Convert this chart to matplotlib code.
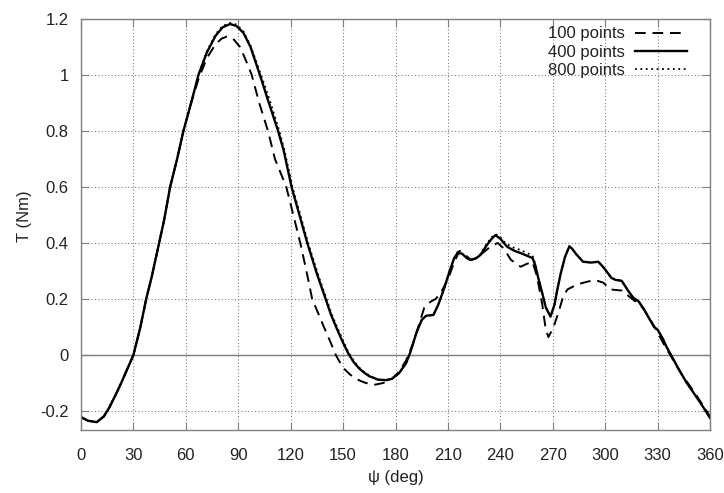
import matplotlib
matplotlib.use("Agg")
import matplotlib.pyplot as plt

# ---- data ----
psi_400 = [0, 4, 9, 13, 16, 20, 23, 26.5, 30, 34, 37.3, 40.5, 44, 47.5, 51, 55, 58.6, 63, 67.2, 72,
           77, 81, 85.3, 89, 93, 97, 102.4, 107, 112.8, 116, 120.5, 125, 129.5, 135, 140, 143, 146,
           149.5, 153, 156, 159, 162, 165, 170, 174.6, 178, 182, 186, 188.5, 192, 195, 197.5, 201.7,
           204.5, 207.5, 211, 213.5, 215.5, 218, 221, 223, 226, 228.6, 232, 235, 237.2, 240, 242, 244,
           248, 251.6, 255, 258.4, 260, 261.5, 264, 266, 268.7, 271, 272.5, 274.5, 277, 279.5, 281,
           283.4, 287.3, 292, 296, 298, 300, 303.6, 306, 309.4, 311, 313.4, 316, 319.3, 322, 325.2,
           328, 330, 333, 335, 338.8, 342, 346.7, 350, 354.4, 357.5, 360]
T_400 = [-0.222, -0.235, -0.240, -0.220, -0.19, -0.14, -0.10, -0.05, 0.0, 0.1, 0.2, 0.28, 0.38, 0.48,
         0.6, 0.70, 0.8, 0.90, 1.0, 1.08, 1.14, 1.17, 1.182, 1.175, 1.15, 1.10, 1.0, 0.91, 0.8, 0.73,
         0.6, 0.5, 0.4, 0.29, 0.2, 0.145, 0.1, 0.05, 0.005, -0.025, -0.047, -0.063, -0.076, -0.088,
         -0.09, -0.085, -0.065, -0.03, 0.01, 0.08, 0.125, 0.14, 0.143, 0.18, 0.232, 0.30, 0.345,
         0.364, 0.362, 0.345, 0.339, 0.345, 0.357, 0.39, 0.415, 0.428, 0.415, 0.40, 0.386, 0.372,
         0.364, 0.355, 0.346, 0.32, 0.28, 0.22, 0.17, 0.137, 0.18, 0.23, 0.29, 0.35, 0.388, 0.38,
         0.36, 0.333, 0.33, 0.333, 0.32, 0.305, 0.275, 0.268, 0.265, 0.25, 0.227, 0.205, 0.19, 0.165,
         0.13, 0.10, 0.09, 0.058, 0.03, -0.013, -0.05, -0.1, -0.13, -0.17, -0.2, -0.225]

psi_800 = [0, 4, 9, 13, 16, 20, 23, 26.5, 30, 34, 37.3, 40.5, 44, 47.5, 51, 55, 58.6, 63, 67.2, 72,
           77, 81, 85.5, 89, 93, 97, 103, 108, 113.5, 116.5, 121, 125.5, 130, 135.5, 140.5, 143.5,
           146.5, 150, 153.5, 156.5, 159.5, 162.5, 165.5, 170, 174.6, 178, 182, 186, 188.5, 192, 195,
           197.5, 201.7, 204.5, 207.5, 211, 213.5, 215.5, 218, 221, 223, 226, 228.6, 232, 235, 237.2,
           240, 242, 244, 248, 251.6, 255, 258.4, 260, 261.5, 264, 266, 268.7, 271, 272.5, 274.5, 277,
           279.5, 281, 283.4, 287.3, 292, 296, 298, 300, 303.6, 306, 309.4, 311, 313.4, 316, 319.3,
           322, 325.2, 328, 330, 333, 335, 338.8, 342, 346.7, 350, 354.4, 357.5, 360]
T_800 = [-0.222, -0.235, -0.240, -0.220, -0.19, -0.14, -0.10, -0.05, 0.0, 0.1, 0.2, 0.28, 0.38, 0.48,
         0.6, 0.70, 0.8, 0.90, 1.0, 1.085, 1.145, 1.175, 1.186, 1.18, 1.155, 1.105, 1.0, 0.91, 0.8,
         0.73, 0.6, 0.5, 0.4, 0.29, 0.2, 0.145, 0.1, 0.05, 0.005, -0.025, -0.047, -0.063, -0.076,
         -0.088, -0.09, -0.085, -0.065, -0.03, 0.01, 0.08, 0.125, 0.14, 0.143, 0.18, 0.232, 0.30,
         0.345, 0.368, 0.362, 0.345, 0.339, 0.345, 0.36, 0.395, 0.42, 0.432, 0.42, 0.405, 0.395,
         0.382, 0.375, 0.365, 0.355, 0.325, 0.28, 0.22, 0.17, 0.137, 0.18, 0.23, 0.29, 0.35, 0.388,
         0.38, 0.36, 0.333, 0.33, 0.333, 0.32, 0.305, 0.275, 0.268, 0.265, 0.25, 0.227, 0.205, 0.19,
         0.165, 0.13, 0.10, 0.09, 0.058, 0.03, -0.013, -0.05, -0.1, -0.13, -0.17, -0.2, -0.225]

psi_100 = [0, 4, 9, 13, 16, 20, 23, 26.5, 30, 34, 37.3, 40.5, 44, 47.5, 51, 55, 58.6, 63, 67.5, 72,
           77, 80.5, 83.4, 87, 91, 94.5, 97.7, 102, 107, 111, 117.5, 121.5, 125.5, 129, 132.3, 136,
           139, 142.5, 145.8, 148.5, 151, 154, 157, 160, 163, 167.6, 173, 178, 182, 186, 190, 193.5,
           196.5, 200, 203, 205.7, 210, 213.5, 216.6, 219.5, 223, 226, 231, 235, 238.5, 242, 246,
           251.6, 255, 258.4, 261, 264, 266, 267.5, 270.5, 273.5, 276, 278.4, 284, 290, 294, 299, 303,
           309.5, 313.5, 317.5, 321.4, 325.5, 329.2, 333, 337, 341, 344.9, 349, 352.8, 356.5, 360]
T_100 = [-0.222, -0.235, -0.240, -0.220, -0.19, -0.14, -0.10, -0.05, 0.0, 0.1, 0.2, 0.28, 0.38, 0.48,
         0.6, 0.70, 0.8, 0.90, 0.99, 1.06, 1.11, 1.13, 1.137, 1.13, 1.10, 1.05, 1.0, 0.9, 0.8, 0.7,
         0.6, 0.5, 0.4, 0.3, 0.2, 0.145, 0.1, 0.05, 0.0, -0.03, -0.052, -0.07, -0.083, -0.093, -0.1,
         -0.107, -0.1, -0.085, -0.06, -0.02, 0.04, 0.11, 0.17, 0.19, 0.2, 0.22, 0.27, 0.33, 0.372,
         0.36, 0.34, 0.345, 0.37, 0.39, 0.40, 0.38, 0.34, 0.315, 0.325, 0.333, 0.28, 0.18, 0.09,
         0.064, 0.10, 0.157, 0.21, 0.234, 0.252, 0.262, 0.268, 0.258, 0.234, 0.23, 0.21, 0.19, 0.169,
         0.13, 0.09, 0.045, 0.002, -0.04, -0.08, -0.115, -0.15, -0.185, -0.22]

xticks = [0, 30, 60, 90, 120, 150, 180, 210, 240, 270, 300, 330, 360]
yticks = [-0.2, 0, 0.2, 0.4, 0.6, 0.8, 1.0, 1.2]
ytick_labels = ["-0.2", "0", "0.2", "0.4", "0.6", "0.8", "1", "1.2"]

plt.rcParams['font.family'] = ['Liberation Sans', 'DejaVu Sans']

fig = plt.figure(figsize=(7.24, 4.93), dpi=100)
ax = fig.add_axes([0.1119, 0.1278, 0.9807 - 0.1119, 0.9615 - 0.1278])

ax.plot(psi_100, T_100, color='black', lw=1.4, linestyle=(0, (5.5, 3.5)), label='100 points')
ax.plot(psi_400, T_400, color='black', lw=1.7, linestyle='-', label='400 points')
ax.plot(psi_800, T_800, color='black', lw=1.3, linestyle=(0, (1, 2)), label='800 points')

ax.axhline(0, color='#808080', lw=1.0, zorder=0.5)

ax.set_xlim(0, 360)
ax.set_ylim(-0.268, 1.2)
ax.set_xticks(xticks)
ax.set_yticks(yticks)
ax.set_yticklabels(ytick_labels)
ax.grid(True, color='#808080', linestyle=(0, (1, 2)), linewidth=0.8)
ax.set_axisbelow(True)

for s in ax.spines.values():
    s.set_color('#808080')
    s.set_linewidth(1.0)
ax.tick_params(direction='in', top=True, right=True, length=6, width=0.8, color='#808080',
               labelsize=12, labelcolor='#222222')
ax.tick_params(axis='x', pad=13)
ax.tick_params(axis='y', pad=9)

ax.set_xlabel('ψ (deg)', fontsize=12, color='#222222', labelpad=5)
ax.set_ylabel('T (Nm)', fontsize=12, color='#222222')
ax.yaxis.set_label_coords(-0.078, 0.52)

leg = ax.legend(loc='upper right', frameon=False, markerfirst=False, fontsize=12,
                handlelength=3.1, handletextpad=0.6, labelspacing=0.2,
                borderaxespad=0.0, borderpad=0.0, bbox_to_anchor=(0.963, 0.982))
for t in leg.get_texts():
    t.set_color('#222222')

fig.savefig('out.png', dpi=100)
